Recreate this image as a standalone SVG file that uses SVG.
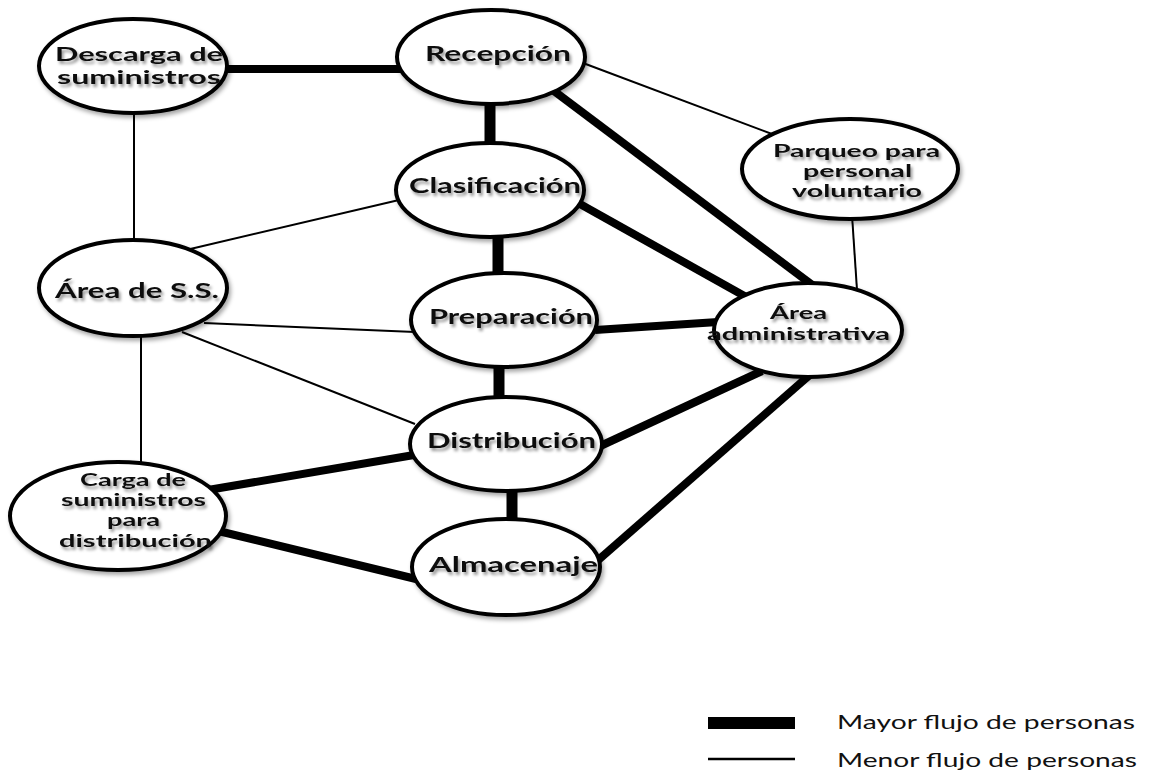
<svg xmlns="http://www.w3.org/2000/svg" width="1152" height="775" viewBox="0 0 1152 775">
<defs>
<style>
.thick{stroke:#000;stroke-width:8;fill:none}
.bar{stroke:#000;stroke-width:11;fill:none}
.thin{stroke:#000;stroke-width:2;fill:none}
.node ellipse{fill:#fff;stroke:#000;stroke-width:4;filter:url(#sh)}
.node text{font-family:Lato,"Open Sans","Liberation Sans",sans-serif;font-weight:700;font-size:20px;fill:#111;filter:url(#tsh)}
.node.md text{font-size:18.5px}
.node.sm text{font-size:16.5px}
.legend text{font-family:Lato,"Open Sans",sans-serif;font-size:20px;fill:#111}
</style>
<filter id="sh" x="-20%" y="-20%" width="140%" height="150%">
<feGaussianBlur in="SourceAlpha" stdDeviation="2"/>
<feOffset dx="2" dy="3" result="b"/>
<feFlood flood-color="#000" flood-opacity="0.35"/>
<feComposite in2="b" operator="in"/>
<feMerge><feMergeNode/><feMergeNode in="SourceGraphic"/></feMerge>
</filter>
<filter id="tsh" x="-10%" y="-40%" width="120%" height="180%">
<feGaussianBlur in="SourceAlpha" stdDeviation="1.6"/>
<feOffset dx="1.5" dy="2.5" result="b"/>
<feFlood flood-color="#000" flood-opacity="0.4"/>
<feComposite in2="b" operator="in"/>
<feMerge><feMergeNode/><feMergeNode in="SourceGraphic"/></feMerge>
</filter>
</defs>
<rect width="1152" height="775" fill="#fff"/>
<g id="connectors">
<line class="thick" x1="220" y1="69" x2="402" y2="69"/>
<line class="bar" x1="490" y1="100" x2="490" y2="148"/>
<line class="thick" x1="550" y1="88" x2="815" y2="287"/>
<line class="thick" x1="580" y1="204" x2="748" y2="298"/>
<line class="bar" x1="498" y1="232" x2="498" y2="278"/>
<line class="thick" x1="595" y1="330" x2="718" y2="322"/>
<line class="bar" x1="499" y1="362" x2="499" y2="402"/>
<line class="thick" x1="596" y1="448" x2="762" y2="371"/>
<line class="thick" x1="596" y1="562" x2="812" y2="373"/>
<line class="thick" x1="414" y1="455" x2="208" y2="490"/>
<line class="thick" x1="210" y1="529" x2="416" y2="579"/>
<line class="bar" x1="512" y1="486" x2="512" y2="526"/>
<line class="thin" x1="583" y1="63" x2="772" y2="134"/>
<line class="thin" x1="852" y1="215" x2="857" y2="290"/>
<line class="thin" x1="134" y1="110" x2="134" y2="244"/>
<line class="thin" x1="399" y1="200" x2="186" y2="250"/>
<line class="thin" x1="204" y1="323" x2="415" y2="332"/>
<line class="thin" x1="182" y1="332" x2="415" y2="424"/>
<line class="thin" x1="141" y1="332" x2="141" y2="464"/>
</g>
<g id="descarga" class="node md">
<ellipse cx="133" cy="66" rx="94" ry="47"/>
<text x="55" y="61" textLength="168" lengthAdjust="spacingAndGlyphs">Descarga de</text>
<text x="57" y="84" textLength="164" lengthAdjust="spacingAndGlyphs">suministros</text>
</g>
<g id="recepcion" class="node">
<ellipse cx="491" cy="57" rx="94" ry="47"/>
<text x="425" y="61" textLength="146" lengthAdjust="spacingAndGlyphs">Recepción</text>
</g>
<g id="clasificacion" class="node">
<ellipse cx="490" cy="190" rx="94" ry="47"/>
<text x="409" y="193" textLength="172" lengthAdjust="spacingAndGlyphs">Clasificación</text>
</g>
<g id="area-ss" class="node">
<ellipse cx="133" cy="288" rx="94" ry="48"/>
<text x="55" y="298" textLength="164" lengthAdjust="spacingAndGlyphs">Área de S.S.</text>
</g>
<g id="preparacion" class="node">
<ellipse cx="504" cy="320" rx="93" ry="47"/>
<text x="429" y="324" textLength="164" lengthAdjust="spacingAndGlyphs">Preparación</text>
</g>
<g id="distribucion" class="node">
<ellipse cx="506" cy="444" rx="96" ry="47"/>
<text x="427" y="448" textLength="169" lengthAdjust="spacingAndGlyphs">Distribución</text>
</g>
<g id="almacenaje" class="node">
<ellipse cx="506" cy="567" rx="94" ry="48"/>
<text x="429" y="572" textLength="169" lengthAdjust="spacingAndGlyphs">Almacenaje</text>
</g>
<g id="carga" class="node sm">
<ellipse cx="118" cy="516" rx="108" ry="54"/>
<text x="80" y="486" textLength="106" lengthAdjust="spacingAndGlyphs">Carga de</text>
<text x="61" y="506" textLength="145" lengthAdjust="spacingAndGlyphs">suministros</text>
<text x="107" y="526" textLength="53" lengthAdjust="spacingAndGlyphs">para</text>
<text x="59" y="547" textLength="153" lengthAdjust="spacingAndGlyphs">distribución</text>
</g>
<g id="parqueo" class="node sm">
<ellipse cx="850" cy="169" rx="108" ry="50"/>
<text x="773" y="157" textLength="167" lengthAdjust="spacingAndGlyphs">Parqueo para</text>
<text x="803" y="177" textLength="109" lengthAdjust="spacingAndGlyphs">personal</text>
<text x="792" y="197" textLength="130" lengthAdjust="spacingAndGlyphs">voluntario</text>
</g>
<g id="area-admin" class="node sm">
<ellipse cx="808" cy="330" rx="94" ry="47"/>
<text x="770" y="319" textLength="57" lengthAdjust="spacingAndGlyphs">Área</text>
<text x="707" y="340" textLength="183" lengthAdjust="spacingAndGlyphs">administrativa</text>
</g>
<g id="legend" class="legend">
<rect x="708" y="717" width="87" height="12" fill="#000"/>
<line x1="708" y1="759" x2="795" y2="759" stroke="#000" stroke-width="2.5"/>
<text x="837" y="729" textLength="298" lengthAdjust="spacingAndGlyphs">Mayor flujo de personas</text>
<text x="837" y="767" textLength="300" lengthAdjust="spacingAndGlyphs">Menor flujo de personas</text>
</g>
</svg>
